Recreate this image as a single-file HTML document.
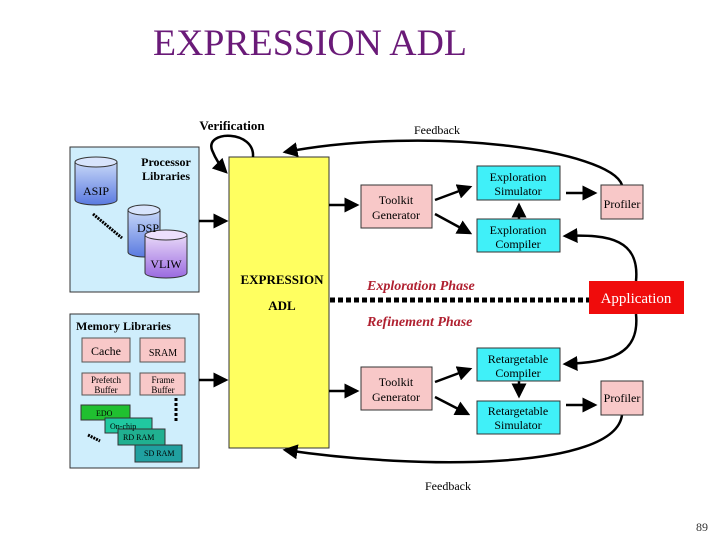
<!DOCTYPE html>
<html><head><style>
body{margin:0;width:720px;height:540px;background:#fff;overflow:hidden;font-family:"Liberation Serif",serif}
</style></head><body>
<svg width="720" height="540" xmlns="http://www.w3.org/2000/svg" font-family="Liberation Serif, serif">
<defs>
<marker id="a" markerWidth="6" markerHeight="6" refX="5" refY="3" orient="auto" markerUnits="strokeWidth"><path d="M0,0L6,3L0,6z" fill="#000"/></marker>
<linearGradient id="cyl" x1="0" y1="0" x2="0" y2="1"><stop offset="0" stop-color="#c8d8f8"/><stop offset="1" stop-color="#5a7ae0"/></linearGradient>
<linearGradient id="cylv" x1="0" y1="0" x2="0" y2="1"><stop offset="0" stop-color="#e8d8f8"/><stop offset="1" stop-color="#9a6ae0"/></linearGradient>
</defs>
<text x="310" y="55" text-anchor="middle" font-size="37" fill="#6a1a78" textLength="314" lengthAdjust="spacingAndGlyphs">EXPRESSION ADL</text>
<text x="232" y="130" text-anchor="middle" font-size="13" font-weight="bold">Verification</text>
<text x="437" y="134" text-anchor="middle" font-size="12">Feedback</text>
<text x="448" y="490" text-anchor="middle" font-size="12">Feedback</text>
<rect x="70" y="147" width="129" height="145" fill="#cfeefc" stroke="#333"/>
<rect x="70" y="314" width="129" height="154" fill="#cfeefc" stroke="#333"/>
<text x="166" y="166" text-anchor="middle" font-size="12" font-weight="bold">Processor</text>
<text x="166" y="180" text-anchor="middle" font-size="12" font-weight="bold">Libraries</text>
<text x="76" y="330" font-size="12" font-weight="bold">Memory Libraries</text>
<g stroke="#333">
<path d="M75,162 v38 a21,5 0 0 0 42,0 v-38" fill="url(#cyl)"/><ellipse cx="96" cy="162" rx="21" ry="5" fill="#d8e4fc"/>
<path d="M128,210 v42 a16,5 0 0 0 32,0 v-42" fill="url(#cyl)"/><ellipse cx="144" cy="210" rx="16" ry="5" fill="#d8e4fc"/>
<path d="M145,235 v38 a21,5 0 0 0 42,0 v-38" fill="url(#cylv)"/><ellipse cx="166" cy="235" rx="21" ry="5" fill="#ecdffc"/>
</g>
<text x="96" y="195" text-anchor="middle" font-size="12">ASIP</text>
<text x="148" y="232" text-anchor="middle" font-size="12">DSP</text>
<text x="166" y="268" text-anchor="middle" font-size="12">VLIW</text>
<line x1="93" y1="214" x2="122" y2="238" stroke="#000" stroke-width="3" stroke-dasharray="2,1"/>
<g stroke="#555" fill="#f8c8c8">
<rect x="82" y="338" width="48" height="24"/><rect x="140" y="338" width="45" height="24"/>
<rect x="82" y="373" width="48" height="22"/><rect x="140" y="373" width="45" height="22"/>
</g>
<text x="106" y="355" text-anchor="middle" font-size="12">Cache</text>
<text x="163" y="356" text-anchor="middle" font-size="10">SRAM</text>
<text x="106" y="383" text-anchor="middle" font-size="9">Prefetch</text>
<text x="106" y="393" text-anchor="middle" font-size="9">Buffer</text>
<text x="163" y="383" text-anchor="middle" font-size="9">Frame</text>
<text x="163" y="393" text-anchor="middle" font-size="9">Buffer</text>
<line x1="176" y1="398" x2="176" y2="422" stroke="#000" stroke-width="3" stroke-dasharray="3,2"/>
<g stroke="#333">
<rect x="81" y="405" width="49" height="15" fill="#20c030"/>
<rect x="105" y="418" width="47" height="15" fill="#20c8a0"/>
<rect x="118" y="429" width="47" height="16" fill="#20b090"/>
<rect x="135" y="445" width="47" height="17" fill="#20a0a0"/>
</g>
<text x="96" y="416" font-size="8">EDO</text>
<text x="110" y="429" font-size="8">On-chip</text>
<text x="123" y="440" font-size="8">RD RAM</text>
<text x="144" y="456" font-size="8">SD RAM</text>
<line x1="88" y1="435" x2="100" y2="441" stroke="#000" stroke-width="3" stroke-dasharray="2,1"/>
<rect x="229" y="157" width="100" height="291" fill="#ffff60" stroke="#333"/>
<text x="282" y="284" text-anchor="middle" font-size="13" font-weight="bold">EXPRESSION</text>
<text x="282" y="310" text-anchor="middle" font-size="13" font-weight="bold">ADL</text>
<g stroke="#000" stroke-width="2.5" fill="none">
<line x1="199" y1="221" x2="226" y2="221" marker-end="url(#a)"/>
<line x1="199" y1="380" x2="226" y2="380" marker-end="url(#a)"/>
<line x1="329" y1="205" x2="357" y2="205" marker-end="url(#a)"/>
<line x1="329" y1="391" x2="357" y2="391" marker-end="url(#a)"/>
<line x1="435" y1="200" x2="470" y2="187" marker-end="url(#a)"/>
<line x1="435" y1="214" x2="470" y2="233" marker-end="url(#a)"/>
<line x1="435" y1="382" x2="470" y2="369" marker-end="url(#a)"/>
<line x1="435" y1="397" x2="468" y2="414" marker-end="url(#a)"/>
<line x1="566" y1="193" x2="595" y2="193" marker-end="url(#a)"/>
<line x1="566" y1="405" x2="595" y2="405" marker-end="url(#a)"/>
<line x1="519" y1="219" x2="519" y2="205" marker-end="url(#a)"/>
<line x1="519" y1="381" x2="519" y2="396" marker-end="url(#a)"/>
<path d="M622,185 C610,150 430,125 285,152" marker-end="url(#a)"/>
<path d="M622,415 C615,470 420,470 285,450" marker-end="url(#a)"/>
<path d="M636,281 C640,240 610,234 565,236" marker-end="url(#a)"/>
<path d="M636,314 C640,355 610,362 565,364" marker-end="url(#a)"/>
<path d="M253,157 C255,130 205,130 212,150 C216,160 222,168 226,172" marker-end="url(#a)"/>
</g>
<line x1="330" y1="300" x2="589" y2="300" stroke="#000" stroke-width="5" stroke-dasharray="5,3"/>
<g stroke="#333">
<rect x="361" y="185" width="71" height="43" fill="#f8c8c8"/>
<rect x="361" y="367" width="71" height="43" fill="#f8c8c8"/>
<rect x="601" y="185" width="42" height="34" fill="#f8c8c8"/>
<rect x="601" y="381" width="42" height="34" fill="#f8c8c8"/>
<rect x="477" y="166" width="83" height="34" fill="#40f0f8"/>
<rect x="477" y="219" width="83" height="33" fill="#40f0f8"/>
<rect x="477" y="348" width="83" height="33" fill="#40f0f8"/>
<rect x="477" y="401" width="83" height="33" fill="#40f0f8"/>
</g>
<rect x="589" y="281" width="95" height="33" fill="#f00c0c"/>
<g font-size="12" text-anchor="middle">
<text x="396" y="204">Toolkit</text><text x="396" y="219">Generator</text>
<text x="396" y="386">Toolkit</text><text x="396" y="401">Generator</text>
<text x="622" y="208">Profiler</text><text x="622" y="402">Profiler</text>
<text x="518" y="181">Exploration</text><text x="518" y="195">Simulator</text>
<text x="518" y="234">Exploration</text><text x="518" y="248">Compiler</text>
<text x="518" y="363">Retargetable</text><text x="518" y="377">Compiler</text>
<text x="518" y="415">Retargetable</text><text x="518" y="429">Simulator</text>
<text x="636" y="303" fill="#fff" font-size="15">Application</text>
</g>
<text x="367" y="290" font-size="14" font-weight="bold" font-style="italic" fill="#b02030">Exploration Phase</text>
<text x="367" y="326" font-size="14" font-weight="bold" font-style="italic" fill="#b02030">Refinement Phase</text>
<text x="708" y="531" text-anchor="end" font-size="12" fill="#333">89</text>
</svg>
</body></html>
